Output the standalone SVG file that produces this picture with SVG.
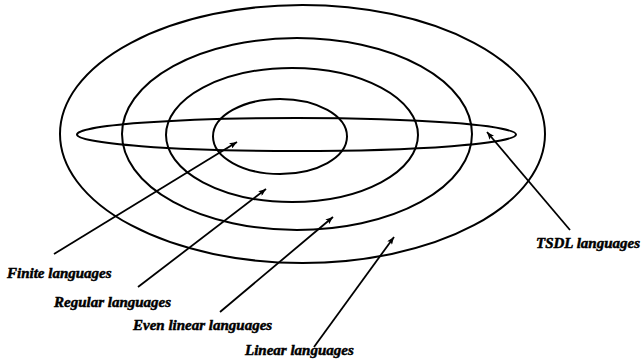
<svg xmlns="http://www.w3.org/2000/svg" width="642" height="362" viewBox="0 0 642 362">
<style>
.e{fill:none;stroke:#000;stroke-width:2}
.c{fill:none;stroke:#000;stroke-width:1.8;marker-end:url(#ah)}
.t{font-family:"Liberation Serif","Times New Roman",serif;font-weight:bold;font-style:italic;font-size:15px;fill:#000;stroke:#000;stroke-width:0.5}
</style>
<defs>
<marker id="ah" viewBox="0 0 10 8" refX="10" refY="4" markerWidth="8" markerHeight="6" markerUnits="userSpaceOnUse" orient="auto">
<path d="M0,0 L10,4 L0,8 L2,4 Z" fill="#000"/>
</marker>
</defs>
<rect width="642" height="362" fill="#fff"/>
<g id="linear-set"><ellipse class="e" cx="302.5" cy="134" rx="242.5" ry="129"/></g>
<g id="even-linear-set"><ellipse class="e" cx="297" cy="134" rx="175" ry="96"/></g>
<g id="regular-set"><ellipse class="e" cx="292" cy="135" rx="126" ry="67"/></g>
<g id="finite-set"><ellipse class="e" cx="280" cy="136.5" rx="67" ry="37.5"/></g>
<g id="tsdl-set"><ellipse class="e" cx="296.5" cy="134.5" rx="219.5" ry="16.5"/></g>
<g id="connectors">
<line class="c" x1="54" y1="254" x2="237" y2="142"/>
<line class="c" x1="138" y1="287" x2="266" y2="189"/>
<line class="c" x1="220" y1="312" x2="333" y2="217"/>
<line class="c" x1="314" y1="347" x2="394" y2="237"/>
<line class="c" x1="570" y1="230" x2="487" y2="132"/>
</g>
<g id="label-finite"><text class="t" x="7" y="278">Finite languages</text></g>
<g id="label-regular"><text class="t" x="54" y="307">Regular languages</text></g>
<g id="label-even-linear"><text class="t" x="133" y="330">Even linear languages</text></g>
<g id="label-linear"><text class="t" x="245" y="355">Linear languages</text></g>
<g id="label-tsdl"><text class="t" x="536" y="248">TSDL languages</text></g>
</svg>
